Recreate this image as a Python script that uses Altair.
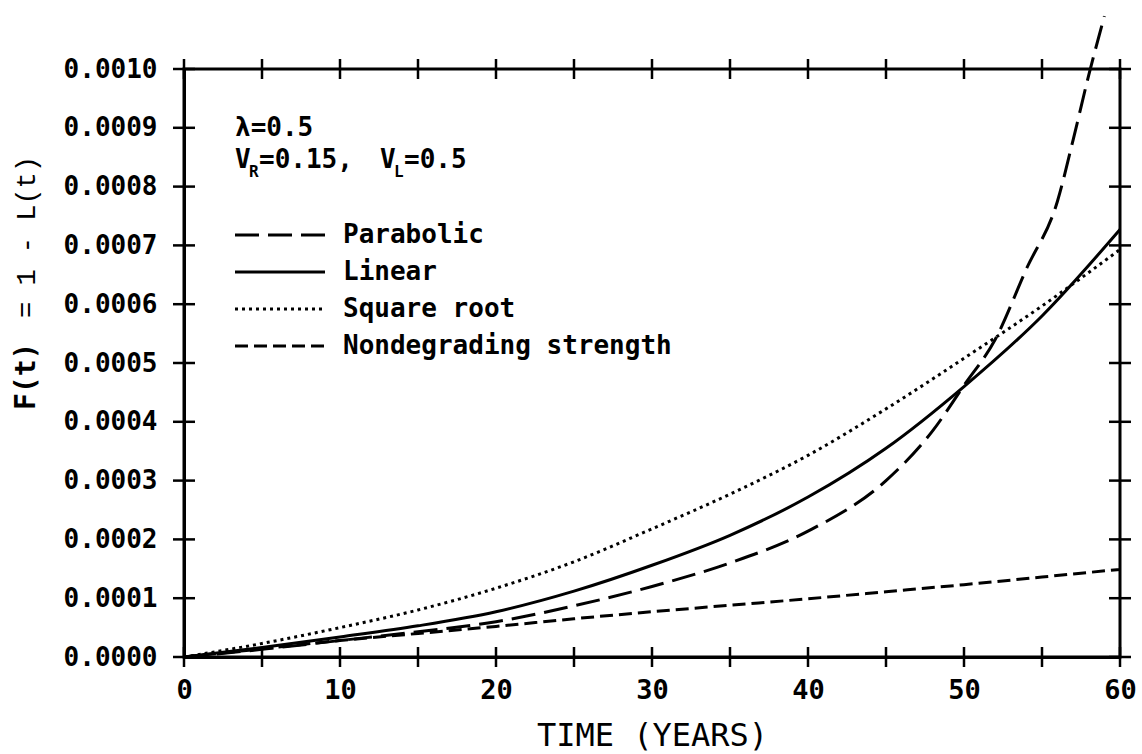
import altair as alt
import pandas as pd

# ---- data ----
years = [0, 5, 10, 15, 20, 25, 30, 35, 40, 45, 50, 55, 60]
linear_vals = [0, 0.000016, 0.000034, 0.000053, 0.000077, 0.000112, 0.000156,
               0.000207, 0.000272, 0.000355, 0.000460, 0.000580, 0.000727]
sqrt_vals = [0, 0.000023, 0.000050, 0.000080, 0.000117, 0.000162, 0.000218,
             0.000277, 0.000343, 0.000422, 0.000508, 0.000597, 0.000693]
nondeg_vals = [0, 0.000014, 0.000028, 0.000040, 0.000052, 0.000065, 0.000077,
               0.000088, 0.000099, 0.000111, 0.000123, 0.000136, 0.000149]
para_years = [0, 5, 10, 15, 20, 25, 30, 35, 40, 45, 48, 50, 52, 54, 56, 57, 58, 59]
para_vals = [0, 0.000013, 0.000028, 0.000043, 0.000060, 0.000087, 0.000120,
             0.000160, 0.000214, 0.000300, 0.000385, 0.000462, 0.000540,
             0.000660, 0.000776, 0.000880, 0.000990, 0.001090]

x_ticks = list(range(0, 61, 5))
x_label_values = list(range(0, 61, 10))
y_ticks = [i / 10000 for i in range(11)]
legend_names = ["Parabolic", "Linear", "Square root", "Nondegrading strength"]

W, H = 936, 588
MONO = "DejaVu Sans Mono"

xs = alt.Scale(domain=[0, 60], nice=False, zero=False)
ys = alt.Scale(domain=[0, 0.001], nice=False)

x_axis = alt.Axis(values=x_label_values, format="d", ticks=False, tickSize=0,
                  domain=True, domainColor="black", domainWidth=3, grid=False,
                  labelFont=MONO, labelFontSize=27, labelFontWeight="bold",
                  labelColor="black", labelPadding=20, labelFlush=False,
                  labelOverlap=False, labelBound=False,
                  title="TIME (YEARS)", titleFont=MONO, titleFontSize=32,
                  titleFontWeight="normal", titleColor="black",
                  titleY=63, titleBaseline="top")
y_axis = alt.Axis(values=y_ticks, format=".4f", ticks=False, tickSize=0,
                  domain=True, domainColor="black", domainWidth=3, grid=False,
                  labelFont=MONO, labelFontSize=26, labelFontWeight="bold",
                  labelColor="black", labelPadding=27, labelOverlap=False,
                  labelBound=False, title=None)

X = alt.X("t:Q", scale=xs, axis=x_axis)
Y = alt.Y("F:Q", scale=ys, axis=y_axis)

def series_df(xv, yv):
    return pd.DataFrame({"t": xv, "F": yv})

styles = {
    "Parabolic": {"strokeDash": [24, 9]},
    "Linear": {},
    "Square root": {"strokeDash": [3, 4]},
    "Nondegrading strength": {"strokeDash": [13, 6]},
}

data_map = {
    "Parabolic": series_df(para_years, para_vals),
    "Linear": series_df(years, linear_vals),
    "Square root": series_df(years, sqrt_vals),
    "Nondegrading strength": series_df(years, nondeg_vals),
}

layers = []
for name in legend_names:
    layers.append(
        alt.Chart(data_map[name]).mark_line(color="black", strokeWidth=3, clip=False,
                                            interpolate="monotone",
                                            **styles[name]).encode(x=X, y=Y)
    )

xt = pd.DataFrame({"t": x_ticks})
yt = pd.DataFrame({"F": y_ticks})
tick_kw = dict(color="black", strokeWidth=2.5)
layers.append(alt.Chart(xt).mark_rule(**tick_kw).encode(
    x=X, y=alt.value(H - 10), y2=alt.value(H + 10)))
layers.append(alt.Chart(xt).mark_rule(**tick_kw).encode(
    x=X, y=alt.value(-10), y2=alt.value(10)))
layers.append(alt.Chart(yt).mark_rule(**tick_kw).encode(
    y=Y, x=alt.value(-11), x2=alt.value(11)))
layers.append(alt.Chart(yt).mark_rule(**tick_kw).encode(
    y=Y, x=alt.value(W - 11), x2=alt.value(W + 11)))

def text_layer(s, x, y, size=26, font=MONO, weight="bold", angle=0, baseline="middle"):
    kw = dict(font=font, fontSize=size, fontWeight=weight, color="black",
              align="left", baseline=baseline)
    if angle:
        kw["angle"] = angle
    return alt.Chart(pd.DataFrame({"s": [s]})).mark_text(**kw).encode(
        x=alt.value(x), y=alt.value(y), text="s:N")

# annotation block
layers.append(text_layer("λ=0.5", 51, 59))
layers.append(text_layer("V", 51, 91))
layers.append(text_layer("R", 65, 103, size=16))
layers.append(text_layer("=0.15,", 75, 91))
layers.append(text_layer("V", 196, 91))
layers.append(text_layer("L", 210, 103, size=16))
layers.append(text_layer("=0.5", 220, 91))

# legend
for i, name in enumerate(legend_names):
    yy = 166 + i * 37
    layers.append(alt.Chart(pd.DataFrame({"n": [name]})).mark_rule(
        color="black", strokeWidth=3, **styles[name]).encode(
        x=alt.value(51), x2=alt.value(141), y=alt.value(yy)))
    layers.append(text_layer(name, 159, yy))

# y title in two pieces
layers.append(text_layer("F(t)", -149, 341, size=28, angle=270, baseline="alphabetic"))
layers.append(text_layer("= 1 - L(t)", -149, 249, size=27, font="Liberation Mono",
                         weight="normal", angle=270, baseline="alphabetic"))

chart = alt.layer(*layers).properties(
    width=W, height=H,
    autosize=alt.AutoSizeParams(type="none"),
    padding={"left": 184, "top": 69, "right": 22, "bottom": 97},
    background="white",
).configure_view(stroke="black", strokeWidth=3)

chart.save("out.html", embed_options={"renderer": "svg", "actions": False})
